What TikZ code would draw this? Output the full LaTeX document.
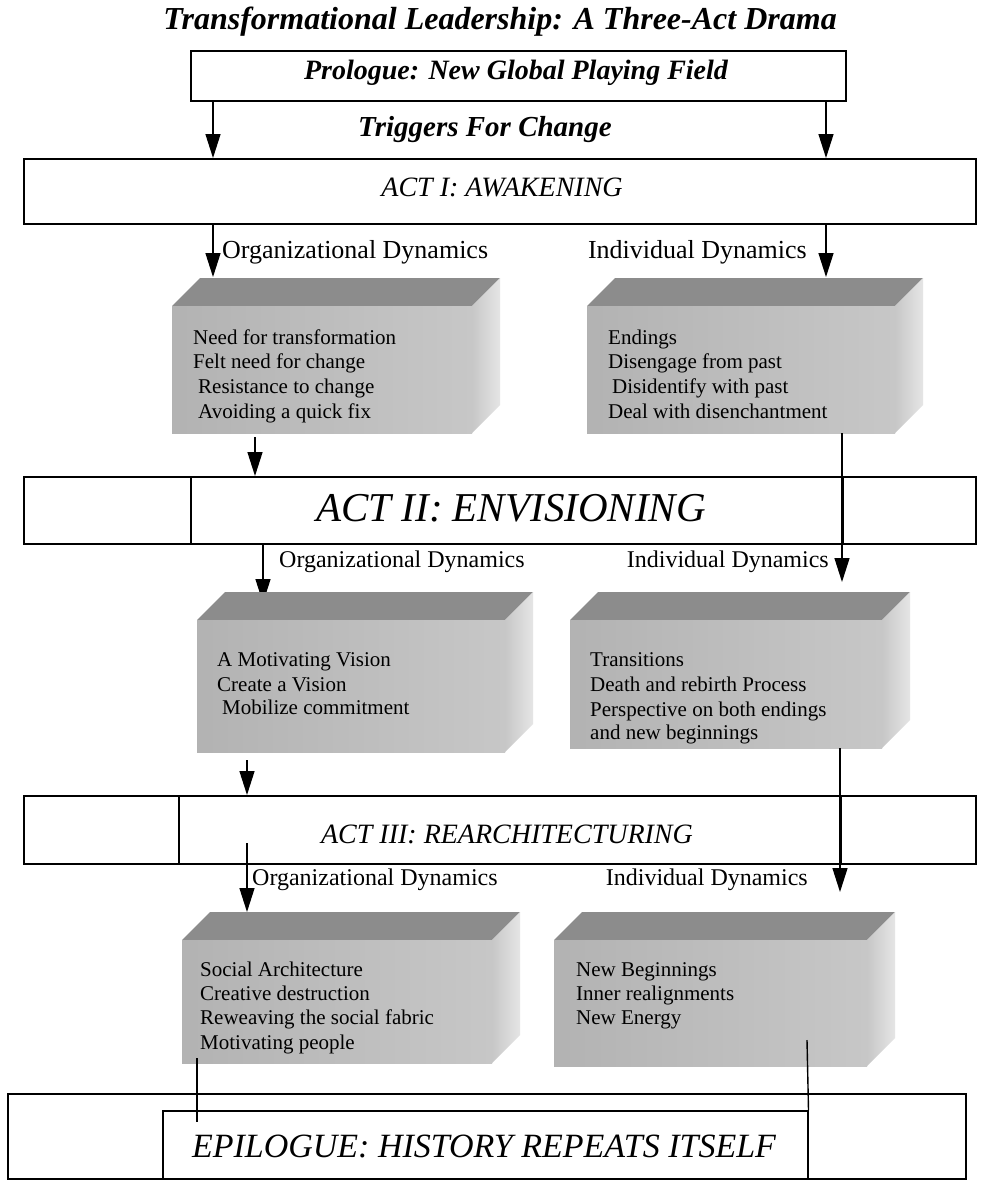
\documentclass[tikz,border=0pt]{standalone}
\usepackage{fontspec}
\setmainfont{Liberation Serif}
\usetikzlibrary{arrows.meta}
\definecolor{topc}{gray}{0.55}
\definecolor{frontc}{gray}{0.70}
\definecolor{frontr}{gray}{0.78}
\definecolor{sidec}{gray}{0.90}
\newcommand{\threedbox}[4]{%
  \fill[topc] (#1,#3) -- (#1+28,#3-28) -- (#2+28,#3-28) -- (#2,#3) -- cycle;
  \shade[left color=frontc, right color=frontr] (#1,#3) rectangle (#2,#4);
  \shade[left color=frontr, right color=sidec] (#2,#3) -- (#2+28,#3-28) -- (#2+28,#4-28) -- (#2,#4) -- cycle;
}
\tikzset{
  frame/.style={draw, line width=1.5pt, inner sep=0pt, anchor=north west},
  arr/.style={line width=1.4pt, -{Triangle[width=15pt,length=24pt]}},
  ln/.style={line width=1.4pt},
  titlet/.style={font=\fontsize{32}{32}\selectfont\bfseries\itshape, inner sep=0pt},
  bigbi/.style={font=\fontsize{28}{28}\selectfont\bfseries\itshape, inner sep=0pt},
  trigt/.style={font=\fontsize{29}{29}\selectfont\bfseries\itshape, inner sep=0pt},
  actt/.style={font=\fontsize{28}{28}\selectfont\itshape, inner sep=0pt},
  acttbig/.style={font=\fontsize{41}{41}\selectfont\itshape, inner sep=0pt},
  epit/.style={font=\fontsize{34}{34}\selectfont\itshape, inner sep=0pt},
  dynA/.style={font=\fontsize{26}{26}\selectfont, inner sep=0pt},
  dynB/.style={font=\fontsize{24}{24}\selectfont, inner sep=0pt},
  boxt/.style={font=\fontsize{21}{21}\selectfont, inner sep=0pt, anchor=base west},
}
\begin{document}
\begin{tikzpicture}[x=1pt,y=-1pt]
\useasboundingbox (0,0) rectangle (981,1181);
\fill[white] (0,0) rectangle (981,1181);

% title and prologue
\node[titlet] (title) at (500,22) {Transformational Leadership: A Three-Act Drama};
\node[frame, minimum width=655pt, minimum height=50pt, bigbi] (pro) at (190,50) {};
\node[bigbi] (prot) at (516,73) {Prologue: New Global Playing Field};
\node[trigt] (trig) at (485,130) {Triggers For Change};

% Act I
\node[frame, minimum width=952pt, minimum height=65pt] (act1) at (23,158) {};
\node[actt] (act1t) at (502,187) {ACT I: AWAKENING};
\coordinate (c1) at (213,277);
\coordinate (c2) at (826,277);
\draw[arr] (pro.south -| c1) -- (act1.north -| c1);
\draw[arr] (pro.south -| c2) -- (act1.north -| c2);
\draw[arr] (act1.south -| c1) -- (c1);
\draw[arr] (act1.south -| c2) -- (c2);
\node[dynA, anchor=west] (od1) at (222,252) {Organizational Dynamics};
\node[dynA, anchor=east] (id1) at (807,252) {Individual Dynamics};

% Act I boxes
\threedbox{172}{472}{306}{433}
\node[boxt] (b1a) at (193,344) {Need for transformation};
\node[boxt] (b1b) at (193,368) {Felt need for change};
\node[boxt] (b1c) at (198,393) {Resistance to change};
\node[boxt] (b1d) at (198,418) {Avoiding a quick fix};
\threedbox{587}{895}{306}{433}
\node[boxt] (b2a) at (608,344) {Endings};
\node[boxt] (b2b) at (608,368) {Disengage from past};
\node[boxt] (b2c) at (612,393) {Disidentify with past};
\node[boxt] (b2d) at (608,418) {Deal with disenchantment};

% Act II
\node[frame, minimum width=952pt, minimum height=67pt] (act2) at (23,476) {};
\node[frame, minimum width=652pt, minimum height=67pt] (act2in) at (190,476) {};
\node[acttbig] (act2t) at (511,508) {ACT II: ENVISIONING};
\coordinate (c3) at (255,437);
\draw[arr] (c3) -- (act2.north -| c3);
\coordinate (c4) at (842,433);
\coordinate (c5) at (842,582);
\draw[arr] (c4) -- (c5);
\coordinate (c6) at (263,603);
\draw[arr] (act2.south -| c6) -- (c6);
\node[dynB, anchor=west] (od2) at (279,562) {Organizational Dynamics};
\node[dynB, anchor=east] (id2) at (829,562) {Individual Dynamics};

% Act II boxes
\threedbox{197}{505}{620}{752}
\node[boxt] (b3a) at (217,666) {A Motivating Vision};
\node[boxt] (b3b) at (217,691) {Create a Vision};
\node[boxt] (b3c) at (222,714) {Mobilize commitment};
\threedbox{570}{882}{620}{748}
\node[boxt] (b4a) at (590,666) {Transitions};
\node[boxt] (b4b) at (590,691) {Death and rebirth Process};
\node[boxt] (b4c) at (590,716) {Perspective on both endings};
\node[boxt] (b4d) at (590,739) {and new beginnings};

% Act III
\node[frame, minimum width=952pt, minimum height=68pt] (act3) at (23,795) {};
\node[frame, minimum width=662pt, minimum height=68pt] (act3in) at (178,795) {};
\node[actt] (act3t) at (507,834) {ACT III: REARCHITECTURING};
\coordinate (c7) at (247,760);
\draw[arr] (c7) -- (act3.north -| c7);
\coordinate (c8) at (840,748);
\coordinate (c9) at (840,892);
\draw[arr] (c8) -- (c9);
\coordinate (c10) at (247,843);
\coordinate (c11) at (247,912);
\draw[arr] (c10) -- (c11);
\node[dynB, anchor=west] (od3) at (252,880) {Organizational Dynamics};
\node[dynB, anchor=east] (id3) at (808,880) {Individual Dynamics};

% Act III boxes
\threedbox{182}{492}{940}{1063}
\node[boxt] (b5a) at (200,976) {Social Architecture};
\node[boxt] (b5b) at (200,1000) {Creative destruction};
\node[boxt] (b5c) at (200,1024) {Reweaving the social fabric};
\node[boxt] (b5d) at (200,1049) {Motivating people};
\threedbox{554}{867}{940}{1066}
\node[boxt] (b6a) at (576,976) {New Beginnings};
\node[boxt] (b6b) at (576,1000) {Inner realignments};
\node[boxt] (b6c) at (576,1024) {New Energy};

% Epilogue
\node[frame, minimum width=958pt, minimum height=85pt] (epi) at (7,1093) {};
\node[frame, minimum width=645pt, minimum height=68pt] (epin) at (162,1110) {};
\node[epit] (epit) at (484,1146) {EPILOGUE: HISTORY REPEATS ITSELF};
\coordinate (c12) at (197,1058);
\coordinate (c13) at (197,1122);
\draw[ln] (c12) -- (c13);
\coordinate (c14) at (807,1040);
\draw[ln] (c14) -- (epin.north east);
\end{tikzpicture}
\end{document}
